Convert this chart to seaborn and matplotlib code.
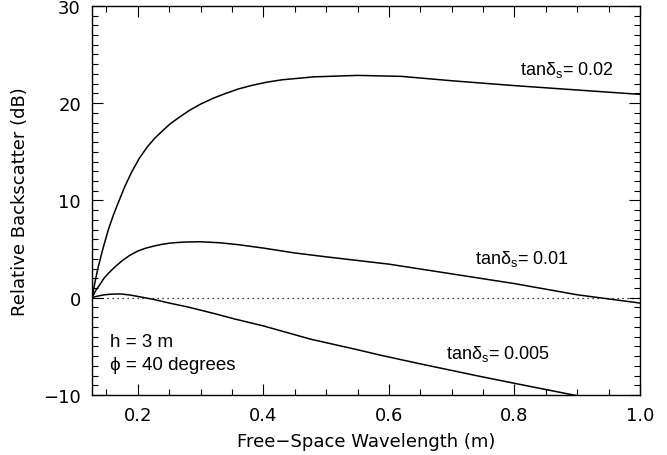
import numpy as np
import pandas as pd
import matplotlib
matplotlib.use("Agg")
import matplotlib.pyplot as plt
import seaborn as sns
from matplotlib.ticker import MultipleLocator

# ---- data ----
x_002 = [0.127, 0.132, 0.137, 0.145, 0.153, 0.161, 0.169, 0.179, 0.19, 0.202, 0.215,
         0.227, 0.24, 0.252, 0.265, 0.282, 0.3, 0.32, 0.34, 0.36, 0.38, 0.405,
         0.43, 0.48, 0.55, 0.62, 0.7, 0.8, 0.9, 1.0]
y_002 = [0.0, 1.7, 3.2, 5.2, 7.0, 8.5, 9.8, 11.4, 12.9, 14.3, 15.5,
         16.4, 17.2, 17.9, 18.5, 19.25, 19.9, 20.5, 21.0, 21.45, 21.8, 22.15,
         22.4, 22.7, 22.85, 22.75, 22.3, 21.8, 21.35, 20.9]

x_001 = [0.127, 0.133, 0.14, 0.146, 0.153, 0.164, 0.175, 0.187, 0.2, 0.212, 0.225,
         0.237, 0.25, 0.262, 0.275, 0.3, 0.33, 0.36, 0.4, 0.45, 0.5, 0.6,
         0.7, 0.75, 0.8, 0.9, 1.0]
y_001 = [0.0, 0.75, 1.4, 2.0, 2.5, 3.2, 3.8, 4.35, 4.8, 5.08, 5.3,
         5.47, 5.6, 5.67, 5.72, 5.75, 5.65, 5.45, 5.1, 4.6, 4.2, 3.45,
         2.45, 1.95, 1.45, 0.3, -0.55]

x_0005 = [0.127, 0.133, 0.14, 0.147, 0.155, 0.164, 0.174, 0.187, 0.2, 0.213, 0.227,
          0.25, 0.28, 0.32, 0.355, 0.4, 0.475, 0.55, 0.586, 0.65, 0.746, 0.8,
          0.894, 0.95, 1.0]
y_0005 = [0.0, 0.12, 0.22, 0.3, 0.35, 0.38, 0.38, 0.28, 0.13, -0.03, -0.2,
          -0.55, -0.96, -1.6, -2.2, -2.9, -4.26, -5.35, -5.9, -6.8, -8.1, -8.8,
          -10.0, -10.7, -11.4]

series_names = ["0.02", "0.01", "0.005"]
label_text = [r"tan$\mathregular{\delta_s}$= 0.02",
              r"tan$\mathregular{\delta_s}$= 0.01",
              r"tan$\mathregular{\delta_s}$= 0.005"]
label_pos = [(0.883, 23.5), (0.811, 4.1), (0.774, -5.7)]

xlim = (0.127, 1.0)
ylim = (-10, 30)

# ---- build table ----
frames = []
for name, xs, ys in zip(series_names, [x_002, x_001, x_0005], [y_002, y_001, y_0005]):
    frames.append(pd.DataFrame({"x": xs, "y": ys, "tan": name}))
df = pd.concat(frames, ignore_index=True)

sns.set_style("ticks")
plt.rcParams["font.family"] = ["DejaVu Sans"]
plt.rcParams["mathtext.fontset"] = "custom"
plt.rcParams["mathtext.rm"] = "Liberation Sans"
plt.rcParams["mathtext.it"] = "Liberation Sans"
plt.rcParams["text.color"] = "black"
plt.rcParams["axes.labelcolor"] = "black"
plt.rcParams["xtick.color"] = "black"
plt.rcParams["ytick.color"] = "black"

fig = plt.figure(figsize=(6.67, 4.56), dpi=100)
ax = fig.add_axes([0.138, 0.1316, 0.9595 - 0.138, 0.985 - 0.1316])

sns.lineplot(data=df, x="x", y="y", hue="tan", palette=["black"] * 3,
             legend=False, ax=ax, linewidth=1.1, sort=False, estimator=None)

ax.axhline(0, color="black", linestyle=(0, (1, 3)), linewidth=0.9)

ax.set_xlim(*xlim)
ax.set_ylim(*ylim)

ax.xaxis.set_major_locator(MultipleLocator(0.2))
ax.xaxis.set_minor_locator(MultipleLocator(0.05))
ax.yaxis.set_major_locator(MultipleLocator(10))
ax.yaxis.set_minor_locator(MultipleLocator(1))
ax.set_xticks([0.2, 0.4, 0.6, 0.8, 1.0])
ax.set_xticklabels(["0.2", "0.4", "0.6", "0.8", "1.0"])

ax.tick_params(which="both", direction="in", top=True, right=True,
               width=0.8, colors="black", labelcolor="black", labelsize=13, pad=8)
ax.tick_params(which="major", length=8)
ax.tick_params(which="minor", length=4)

for s in ax.spines.values():
    s.set_linewidth(1.0)
    s.set_color("black")

ax.set_xlabel("Free\u2212Space Wavelength (m)", fontsize=13,
              labelpad=6, color="black")
ax.set_ylabel("Relative Backscatter (dB)", fontsize=13,
              labelpad=10, color="black")

for txt, (tx, ty) in zip(label_text, label_pos):
    ax.text(tx, ty, txt, ha="center", va="center", fontsize=13,
            family="Liberation Sans", color="black")

ax.text(0.156, -4.5, "h = 3 m", ha="left", va="center", fontsize=13.5,
        family="Liberation Sans", color="black")
ax.text(0.156, -6.9, "\u03d5 = 40 degrees", ha="left", va="center", fontsize=13.5,
        family="Liberation Sans", color="black")

fig.savefig("out.png", dpi=100)
